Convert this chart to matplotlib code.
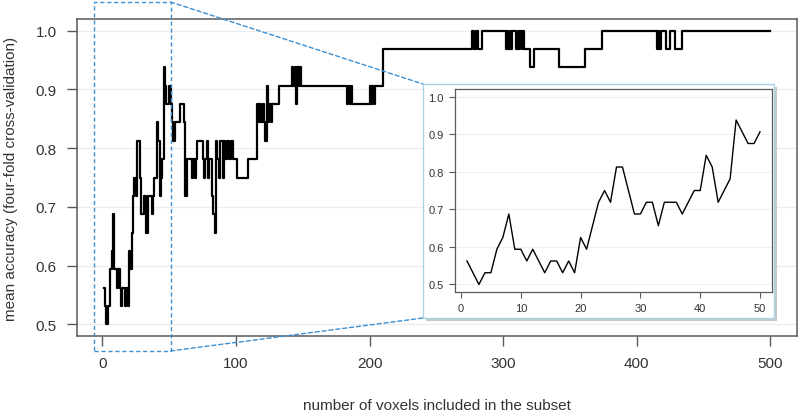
import numpy as np
import matplotlib
matplotlib.use('Agg')
import matplotlib.pyplot as plt
from matplotlib.patches import Rectangle, ConnectionPatch

plt.rcParams['font.family'] = ['Liberation Sans', 'DejaVu Sans']

# accuracy for the first 50 subsets (also drawn in the inset)
acc_first50 = [0.5625, 0.53125, 0.5, 0.53125, 0.53125, 0.59375, 0.625, 0.6875, 0.59375, 0.59375,
               0.5625, 0.59375, 0.5625, 0.53125, 0.5625, 0.5625, 0.53125, 0.5625, 0.53125, 0.625,
               0.59375, 0.65625, 0.71875, 0.75, 0.71875, 0.8125, 0.8125, 0.75, 0.6875, 0.6875,
               0.71875, 0.71875, 0.65625, 0.71875, 0.71875, 0.71875, 0.6875, 0.71875, 0.75, 0.75,
               0.84375, 0.8125, 0.71875, 0.75, 0.78125, 0.9375, 0.90625, 0.875, 0.875, 0.90625]

# subsets 51..500 read as runs: accuracy level and number of subsets it lasts
run_acc = [0.875, 0.84375, 0.8125, 0.84375, 0.875, 0.84375, 0.71875, 0.78125, 0.75, 0.78125,
           0.75, 0.78125, 0.8125, 0.78125, 0.75, 0.78125, 0.8125, 0.75, 0.78125, 0.71875,
           0.6875, 0.65625, 0.8125, 0.78125, 0.75, 0.8125, 0.75, 0.8125, 0.78125, 0.8125,
           0.78125, 0.8125, 0.78125, 0.75, 0.78125,
           0.875, 0.84375, 0.875, 0.84375, 0.875, 0.84375, 0.8125, 0.90625, 0.84375, 0.875,
           0.84375, 0.875, 0.90625, 0.9375, 0.90625, 0.9375, 0.875, 0.9375, 0.90625, 0.9375,
           0.90625, 0.875, 0.90625, 0.875, 0.90625, 0.875, 0.90625, 0.875, 0.90625, 0.875,
           0.90625, 0.96875, 1.0, 0.96875, 1.0, 0.96875, 1.0,
           0.96875, 1.0, 0.96875, 1.0, 0.96875, 1.0, 0.96875, 1.0, 0.96875, 1.0, 0.96875, 1.0,
           0.96875, 0.9375, 0.96875, 0.9375, 0.96875, 1.0,
           0.96875, 1.0, 0.96875, 1.0, 0.96875, 1.0, 0.96875, 1.0]
run_len = [1, 1, 1, 4, 3, 1, 1, 4, 1, 1,
           1, 1, 4, 1, 1, 1, 1, 1, 2, 1,
           1, 1, 1, 1, 1, 2, 1, 1, 1, 2,
           1, 2, 3, 8, 7,
           1, 1, 1, 1, 1, 1, 1, 1, 1, 1,
           1, 5, 10, 1, 1, 1, 1, 1, 1, 1,
           34, 1, 1, 1, 1, 13, 1, 1, 1, 1,
           6, 67, 1, 2, 1, 3, 18,
           1, 1, 1, 1, 1, 3, 1, 1, 1, 1, 1, 1,
           4, 3, 19, 19, 13, 41,
           1, 1, 1, 4, 3, 4, 5, 67]

x_ticks = [0, 100, 200, 300, 400, 500]
y_ticks = [0.5, 0.6, 0.7, 0.8, 0.9, 1.0]
inset_x_ticks = [0, 10, 20, 30, 40, 50]

accuracy = np.concatenate([acc_first50, np.repeat(run_acc, run_len)])
voxels = np.arange(1, len(accuracy) + 1)

W, H = 800, 414
fig = plt.figure(figsize=(W / 100, H / 100), dpi=100)

spine_col = '#5a5a5a'
text_col = '#333333'
grid_col = '#ececec'

# main axes
ax = fig.add_axes([77 / W, 1 - 337 / H, 720 / W, 317 / H])
ax.set_xlim(-19, 520)
ax.set_ylim(0.48, 1.02)
for y in y_ticks:
    ax.axhline(y, color=grid_col, lw=0.8, zorder=0)
ax.step(voxels, accuracy, where='post', color='black', lw=1.6, zorder=2)
ax.set_xticks(x_ticks)
ax.set_yticks(y_ticks)
ax.set_yticklabels([f'{v:.1f}' for v in y_ticks])
ax.tick_params(direction='out', length=7.5, width=1.0, color=spine_col,
               labelcolor=text_col, labelsize=11, pad=7)
for s in ax.spines.values():
    s.set_color(spine_col)
    s.set_linewidth(1.1)
ax.set_xlabel('number of voxels included in the subset', fontsize=11,
              color=text_col, labelpad=20)
ax.set_ylabel('mean accuracy (four-fold cross-validation)', fontsize=11,
              color=text_col, labelpad=13)

# dashed zoom window over the first 50 subsets
zoom_col = '#3d8fd1'
zoom_box = Rectangle((-6.3, 0.4545), 57.3, 0.5945, fill=False, ls=(0, (3, 2)),
                     ec=zoom_col, lw=1.0, clip_on=False, zorder=3)
ax.add_patch(zoom_box)

# inset frame (with soft shadow)
fx0, fy0, fx1, fy1 = 423, 85, 774, 319
shadow = Rectangle(((fx0 + 3) / W, 1 - (fy1 + 3) / H), (fx1 - fx0) / W, (fy1 - fy0) / H,
                   transform=fig.transFigure, fc='#c8c8c8', ec='none', zorder=4)
frame = Rectangle((fx0 / W, 1 - fy1 / H), (fx1 - fx0) / W, (fy1 - fy0) / H,
                  transform=fig.transFigure, fc='white', ec='#a8d2e6', lw=1.0, zorder=5)
fig.patches.extend([shadow, frame])

for xa, ya, yb in [(51, 1.049, fy0), (51, 0.4545, fy1)]:
    con = ConnectionPatch(xyA=(xa, ya), coordsA=ax.transData,
                          xyB=(fx0 / W, 1 - yb / H), coordsB=fig.transFigure,
                          ls=(0, (3, 2)), color=zoom_col, lw=1.0, zorder=3)
    fig.add_artist(con)

# inset axes
axi = fig.add_axes([455 / W, 1 - 293 / H, 317 / W, 203 / H], zorder=10)
axi.set_xlim(-1, 52)
axi.set_ylim(0.48, 1.02)
for y in y_ticks:
    axi.axhline(y, color='#f0f0f0', lw=0.8, zorder=0)
axi.plot(voxels[:50], acc_first50, color='black', lw=1.0)
axi.set_xticks(inset_x_ticks)
axi.set_yticks(y_ticks)
axi.set_yticklabels([f'{v:.1f}' for v in y_ticks])
axi.tick_params(direction='out', length=4, width=0.8, color=spine_col,
                labelcolor=text_col, labelsize=8, pad=4)
for s in axi.spines.values():
    s.set_color(spine_col)
    s.set_linewidth(0.9)

fig.savefig('out.png', dpi=100)
